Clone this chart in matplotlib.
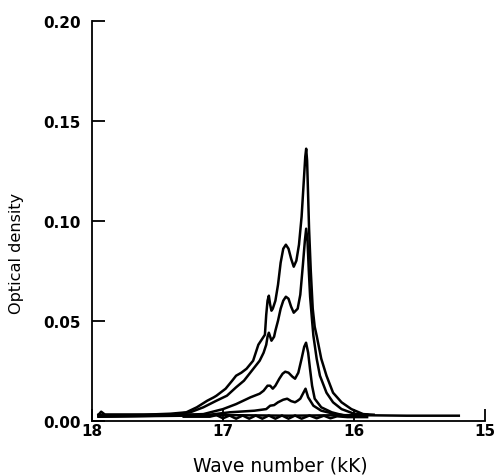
import matplotlib
matplotlib.use("Agg")
import matplotlib.pyplot as plt

# wave number (kK) and optical density, one pair per trace
k1 = [17.95, 17.6, 17.4, 17.28, 17.20, 17.12, 17.07, 17.05, 17.02, 16.98, 16.93,
      16.90, 16.86, 16.82, 16.77, 16.75, 16.73, 16.70, 16.68, 16.67, 16.66, 16.65,
      16.64, 16.63, 16.62, 16.60, 16.58, 16.56, 16.54, 16.52, 16.50, 16.48, 16.46,
      16.44, 16.42, 16.40, 16.385, 16.372, 16.365, 16.358, 16.35, 16.343, 16.33,
      16.315, 16.30, 16.285, 16.25, 16.21, 16.16, 16.095, 16.02, 15.93, 15.85]
od1 = [0.003, 0.003, 0.0035, 0.0042, 0.0067, 0.010, 0.0117, 0.0125, 0.014, 0.016, 0.020,
       0.0225, 0.024, 0.026, 0.030, 0.034, 0.038, 0.041, 0.043, 0.053, 0.060, 0.0625,
       0.058, 0.055, 0.056, 0.060, 0.068, 0.079, 0.086, 0.088, 0.086, 0.081, 0.077,
       0.080, 0.088, 0.102, 0.118, 0.132, 0.136, 0.130, 0.112, 0.096, 0.075,
       0.056, 0.047, 0.0425, 0.031, 0.0225, 0.014, 0.0092, 0.0058, 0.0033, 0.003]

k2 = [17.95, 17.4, 17.25, 17.15, 17.05, 16.97, 16.90, 16.84, 16.78, 16.72, 16.69,
      16.67, 16.66, 16.65, 16.64, 16.63, 16.61, 16.60, 16.58, 16.56, 16.54, 16.52,
      16.50, 16.48, 16.46, 16.43, 16.41, 16.39, 16.375, 16.365, 16.355, 16.345, 16.335,
      16.32, 16.31, 16.285, 16.26, 16.21, 16.16, 16.095, 16.0, 15.9]
od2 = [0.0025, 0.003, 0.0042, 0.0067, 0.010, 0.0125, 0.0167, 0.020, 0.025, 0.030, 0.034,
       0.038, 0.042, 0.044, 0.042, 0.040, 0.042, 0.045, 0.050, 0.056, 0.060, 0.062,
       0.061, 0.057, 0.054, 0.056, 0.063, 0.078, 0.090, 0.096, 0.090, 0.075, 0.062,
       0.050, 0.0425, 0.031, 0.0225, 0.014, 0.0092, 0.0058, 0.0035, 0.003]

k3 = [17.95, 17.5, 17.3, 17.15, 17.0, 16.90, 16.79, 16.72, 16.69, 16.66, 16.64,
      16.62, 16.60, 16.57, 16.545, 16.525, 16.50, 16.47, 16.45, 16.425, 16.40, 16.38,
      16.366, 16.35, 16.336, 16.32, 16.30, 16.25, 16.17, 16.07, 15.95]
od3 = [0.002, 0.0025, 0.003, 0.0033, 0.0058, 0.0083, 0.0117, 0.0135, 0.015, 0.0175, 0.0175,
       0.016, 0.0175, 0.021, 0.0235, 0.0245, 0.024, 0.022, 0.021, 0.024, 0.031, 0.037,
       0.039, 0.034, 0.026, 0.0175, 0.011, 0.0067, 0.0042, 0.0025, 0.0022]

k4 = [17.95, 17.3, 17.1, 16.95, 16.76, 16.67, 16.64, 16.61, 16.58, 16.54, 16.51,
      16.48, 16.45, 16.43, 16.41, 16.39, 16.37, 16.35, 16.31, 16.25, 16.145, 16.0]
od4 = [0.002, 0.0025, 0.003, 0.0042, 0.005, 0.0058, 0.0075, 0.0078, 0.0092, 0.0105, 0.011,
       0.0098, 0.0092, 0.010, 0.011, 0.0135, 0.016, 0.0117, 0.0075, 0.005, 0.0033, 0.0022]

k5 = [17.30, 17.10, 17.05, 17.00, 16.95, 16.90, 16.85, 16.80, 16.75, 16.70, 16.65,
      16.60, 16.55, 16.50, 16.45, 16.40, 16.34, 16.285, 16.23, 16.18, 16.13, 16.05, 15.9]
od5 = [0.002, 0.002, 0.0028, 0.0012, 0.0026, 0.001, 0.0026, 0.001, 0.0026, 0.001, 0.0026,
       0.001, 0.0026, 0.001, 0.0026, 0.001, 0.0026, 0.0012, 0.0025, 0.0012, 0.0022, 0.0018, 0.0018]

k_base = [17.95, 17.93, 17.9, 17.5, 17.0, 16.5, 16.0, 15.6, 15.2]
od_base = [0.003, 0.0045, 0.003, 0.003, 0.0028, 0.0025, 0.0028, 0.0025, 0.0025]

traces = [(k1, od1), (k2, od2), (k3, od3), (k4, od4), (k5, od5), (k_base, od_base)]

fig = plt.figure(figsize=(5.01, 4.77), dpi=100)
ax = fig.add_axes([92 / 501, 1 - 421.7 / 477, 393 / 501, 400 / 477])

for k, od in traces:
    ax.plot(k, od, color="black", lw=1.8, solid_joinstyle="round")

ax.set_xlim(18, 15)
ax.set_ylim(0, 0.20)
ax.set_xticks([18, 17, 16, 15])
ax.set_yticks([0.0, 0.05, 0.10, 0.15, 0.20])
ax.set_yticklabels(["0.00", "0.05", "0.10", "0.15", "0.20"])
ax.tick_params(direction="in", length=9, width=1.3, labelsize=11)
ax.tick_params(axis="y", pad=8)
ax.tick_params(axis="x", pad=2)
for lab in ax.get_xticklabels() + ax.get_yticklabels():
    lab.set_fontweight("bold")

for s in ["top", "right"]:
    ax.spines[s].set_visible(False)
for s in ["left", "bottom"]:
    ax.spines[s].set_linewidth(1.3)

ax.set_xlabel("Wave number (kK)", fontsize=13.5)
ax.set_ylabel("Optical density", fontsize=11.6)
ax.xaxis.set_label_coords(0.478, -0.088)
ax.yaxis.set_label_coords(-0.172, 0.42)

fig.savefig("out.png", dpi=100)
